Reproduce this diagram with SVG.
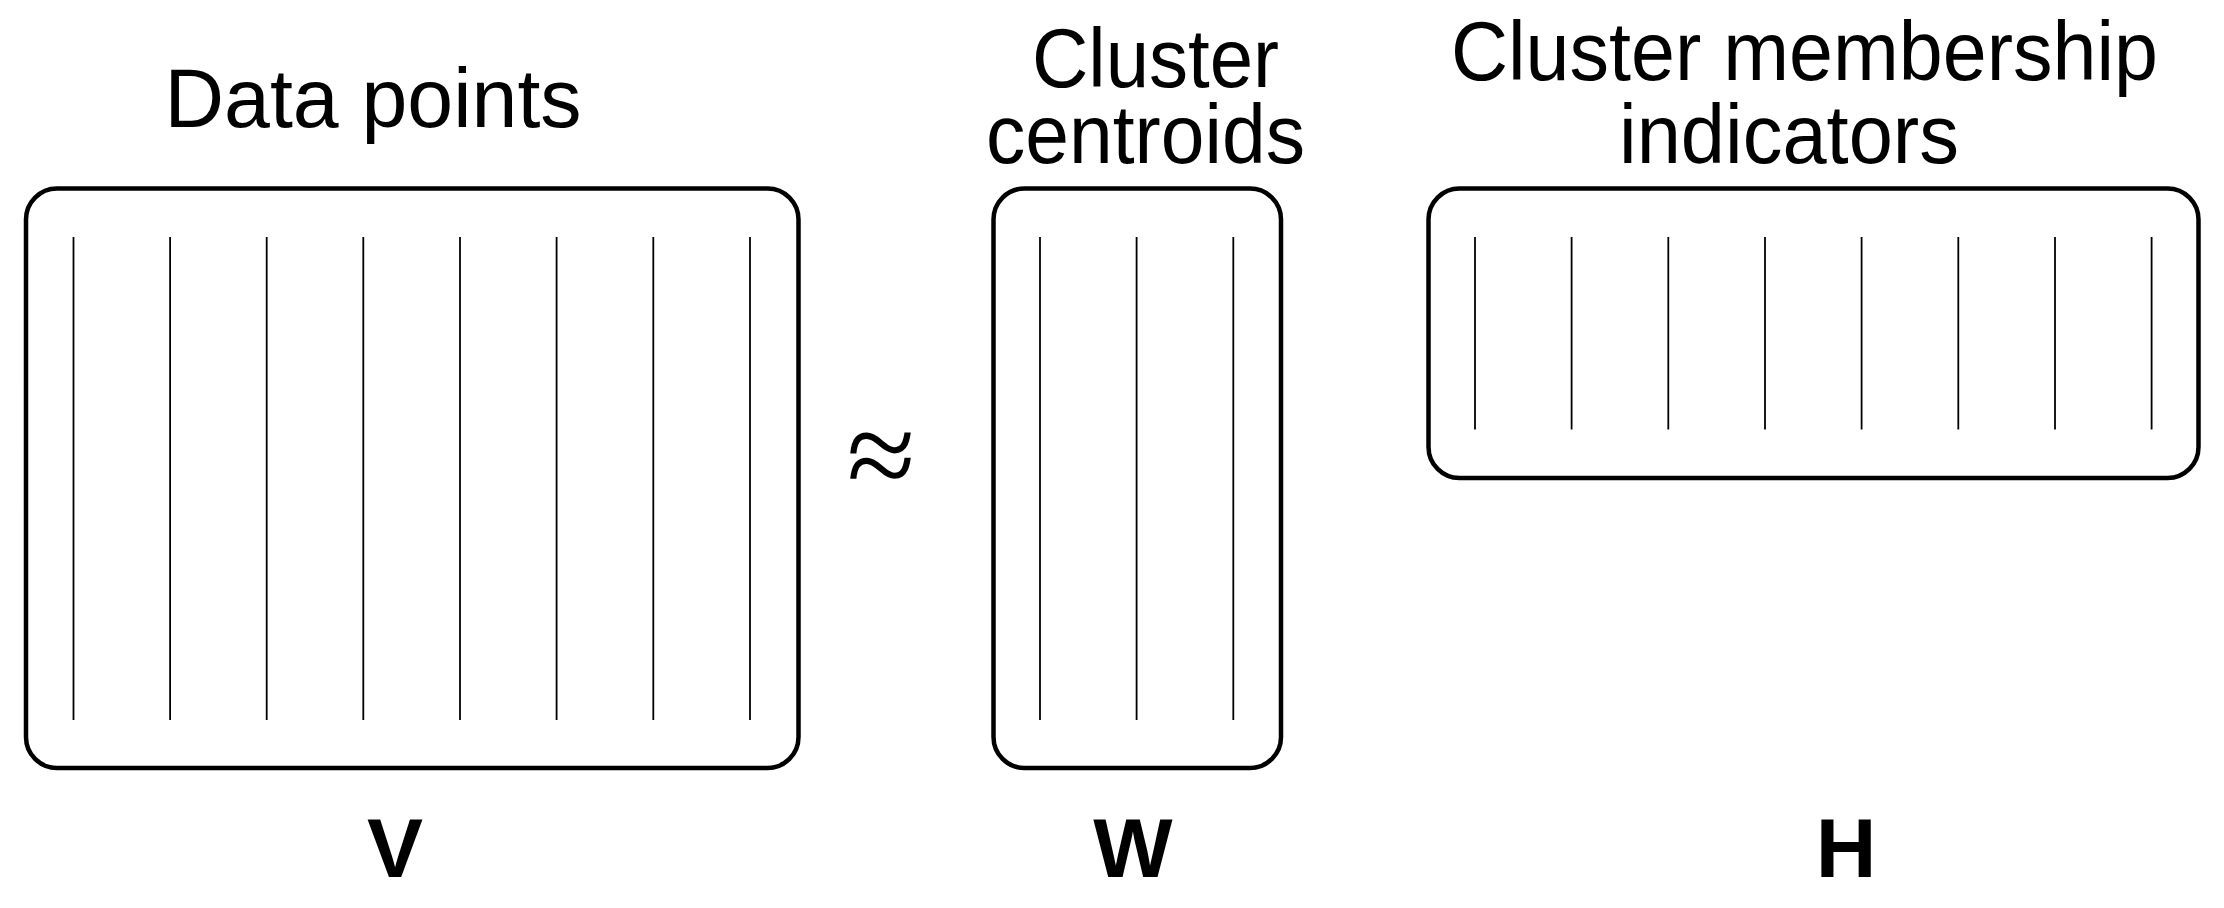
<svg xmlns="http://www.w3.org/2000/svg" width="2224" height="908" viewBox="0 0 2224 908">
<style>
.box{fill:none;stroke:#000;stroke-width:4.5}
.col{stroke:#000;stroke-width:1.8}
.title{font-family:"Liberation Sans","Arial",sans-serif;font-size:84px;fill:#000;text-anchor:middle}
.lab{font-family:"Liberation Sans","Arial",sans-serif;font-size:84px;font-weight:bold;fill:#000;text-anchor:middle}
.op{font-family:"Liberation Serif","Times New Roman",serif;font-size:125px;fill:#000;text-anchor:middle}
</style>
<rect x="0" y="0" width="2224" height="908" fill="#fff"/>
<g id="V">
<text class="title" x="373" y="127" textLength="417" lengthAdjust="spacingAndGlyphs">Data points</text>
<rect class="box" x="26" y="188.5" width="772.5" height="579.5" rx="31" ry="31"/>
<g class="col">
<line x1="73.5" y1="237" x2="73.5" y2="720"/>
<line x1="170.1" y1="237" x2="170.1" y2="720"/>
<line x1="266.7" y1="237" x2="266.7" y2="720"/>
<line x1="363.3" y1="237" x2="363.3" y2="720"/>
<line x1="460" y1="237" x2="460" y2="720"/>
<line x1="556.6" y1="237" x2="556.6" y2="720"/>
<line x1="653.3" y1="237" x2="653.3" y2="720"/>
<line x1="750" y1="237" x2="750" y2="720"/>
</g>
<text class="lab" x="395" y="877">V</text>
</g>
<g id="approx">
<text class="op" x="881" y="497">≈</text>
</g>
<g id="W">
<text class="title" x="1155.5" y="87" textLength="247" lengthAdjust="spacingAndGlyphs">Cluster</text>
<text class="title" x="1145.5" y="163" textLength="319" lengthAdjust="spacingAndGlyphs">centroids</text>
<rect class="box" x="993.5" y="188.5" width="287.5" height="579.5" rx="31" ry="31"/>
<g class="col">
<line x1="1040" y1="237" x2="1040" y2="720"/>
<line x1="1136.6" y1="237" x2="1136.6" y2="720"/>
<line x1="1233.3" y1="237" x2="1233.3" y2="720"/>
</g>
<text class="lab" x="1133" y="877">W</text>
</g>
<g id="H">
<text class="title" x="1804.5" y="80" textLength="707" lengthAdjust="spacingAndGlyphs">Cluster membership</text>
<text class="title" x="1789" y="163" textLength="340" lengthAdjust="spacingAndGlyphs">indicators</text>
<rect class="box" x="1428.5" y="188.5" width="770" height="289.5" rx="31" ry="31"/>
<g class="col">
<line x1="1475" y1="237" x2="1475" y2="429.5"/>
<line x1="1571.6" y1="237" x2="1571.6" y2="429.5"/>
<line x1="1668.3" y1="237" x2="1668.3" y2="429.5"/>
<line x1="1765" y1="237" x2="1765" y2="429.5"/>
<line x1="1861.6" y1="237" x2="1861.6" y2="429.5"/>
<line x1="1958.3" y1="237" x2="1958.3" y2="429.5"/>
<line x1="2055" y1="237" x2="2055" y2="429.5"/>
<line x1="2151.6" y1="237" x2="2151.6" y2="429.5"/>
</g>
<text class="lab" x="1846" y="877">H</text>
</g>
<g id="connectors"></g>
</svg>
